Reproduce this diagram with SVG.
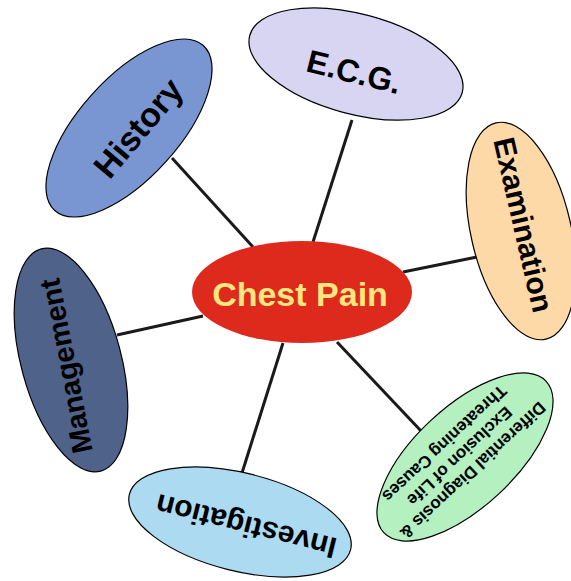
<svg xmlns="http://www.w3.org/2000/svg" width="571" height="581" viewBox="0 0 571 581">
<style>
.n{stroke:#000;stroke-width:1.2}
.t{font-family:"Liberation Sans",Arial,sans-serif;font-weight:bold;fill:#000;text-anchor:middle}
.c line{stroke:#1a1a1a;stroke-width:3;stroke-linecap:butt}
</style>
<rect width="571" height="581" fill="#fff"/>
<g id="connectors" class="c">
<line x1="172" y1="158" x2="253" y2="247"/>
<line x1="352" y1="120" x2="313" y2="242"/>
<line x1="477" y1="257" x2="403" y2="272"/>
<line x1="117" y1="335" x2="203" y2="316"/>
<line x1="242" y1="473" x2="283" y2="343"/>
<line x1="422" y1="432" x2="337" y2="342"/>
</g>
<g id="history">
<ellipse class="n" cx="129" cy="128" rx="111" ry="50" transform="rotate(-48 129 128)" fill="#7A96D2"/>
<text class="t" font-size="34" transform="translate(138 128) rotate(-50)" y="12">History</text>
</g>
<g id="ecg">
<ellipse class="n" cx="356" cy="64" rx="110" ry="50" transform="rotate(15 356 64)" fill="#D8D5F3"/>
<text class="t" font-size="32" transform="translate(354 72) rotate(14)" y="11">E.C.G.</text>
</g>
<g id="examination">
<ellipse class="n" cx="521" cy="231" rx="111" ry="50" transform="rotate(77 521 231)" fill="#FDD9A8"/>
<text class="t" font-size="30" transform="translate(523 225) rotate(77)" y="10">Examination</text>
</g>
<g id="management">
<ellipse class="n" cx="71" cy="360" rx="115" ry="50" transform="rotate(75 71 360)" fill="#4F6289"/>
<text class="t" font-size="29" transform="translate(66 366) rotate(-101)" y="10">Management</text>
</g>
<g id="investigation">
<ellipse class="n" cx="240" cy="522" rx="114" ry="49" transform="rotate(14 240 522)" fill="#ACDAF1"/>
<text class="t" font-size="30" transform="translate(246 526) rotate(194)" y="10">Investigation</text>
</g>
<g id="differential">
<ellipse class="n" cx="465" cy="457" rx="111" ry="50" transform="rotate(-43 465 457)" fill="#B4F0C0"/>
<text class="t" font-size="17" transform="translate(458 458) rotate(137)">
<tspan x="0" y="-13.5">Differential Diagnosis &amp;</tspan>
<tspan x="0" y="6">Exclusion of Life</tspan>
<tspan x="0" y="25.5">Threatening Causes</tspan>
</text>
</g>
<g id="chest-pain">
<ellipse cx="302" cy="292" rx="110" ry="51" fill="#DD2A1C"/>
<text class="t" font-size="34" x="300" y="306" style="fill:#FFE680">Chest Pain</text>
</g>
</svg>
